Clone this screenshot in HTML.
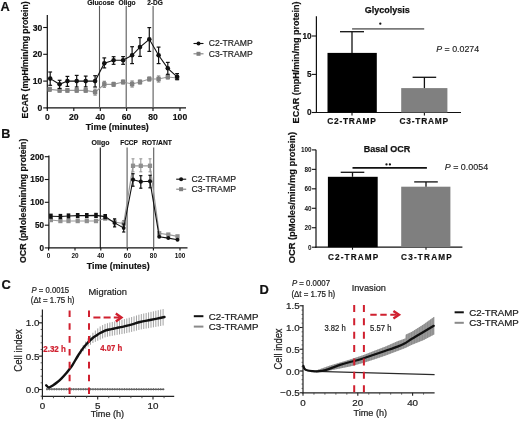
<!DOCTYPE html>
<html><head><meta charset="utf-8"><title>Figure</title>
<style>
html,body{margin:0;padding:0;background:#fff;}
body{width:520px;height:421px;overflow:hidden;}
svg{display:block;will-change:transform;}
text{font-family:"Liberation Sans", sans-serif;}
</style></head>
<body>
<svg width="520" height="421" viewBox="0 0 520 421" font-family="Liberation Sans, sans-serif">
<text x="0.5" y="10.8" font-size="12.8" font-weight="bold" text-anchor="start" fill="#111"  stroke="#111" stroke-width="0.18">A</text>
<line x1="47.3" y1="15" x2="47.3" y2="108.4" stroke="#111" stroke-width="1.2" />
<line x1="46.699999999999996" y1="107.9" x2="186" y2="107.9" stroke="#111" stroke-width="1.2" />
<line x1="43.2" y1="107.9" x2="47.3" y2="107.9" stroke="#111" stroke-width="1.1" />
<text x="42.3" y="110.9" font-size="8.6" font-weight="bold" text-anchor="end" fill="#111"  stroke="#111" stroke-width="0.18">0</text>
<line x1="43.2" y1="81.1" x2="47.3" y2="81.1" stroke="#111" stroke-width="1.1" />
<text x="42.3" y="84.1" font-size="8.6" font-weight="bold" text-anchor="end" fill="#111"  stroke="#111" stroke-width="0.18">10</text>
<line x1="43.2" y1="54.3" x2="47.3" y2="54.3" stroke="#111" stroke-width="1.1" />
<text x="42.3" y="57.3" font-size="8.6" font-weight="bold" text-anchor="end" fill="#111"  stroke="#111" stroke-width="0.18">20</text>
<line x1="43.2" y1="27.5" x2="47.3" y2="27.5" stroke="#111" stroke-width="1.1" />
<text x="42.3" y="30.5" font-size="8.6" font-weight="bold" text-anchor="end" fill="#111"  stroke="#111" stroke-width="0.18">30</text>
<line x1="47.3" y1="107.9" x2="47.3" y2="110.9" stroke="#111" stroke-width="1.1" />
<text x="47.3" y="119.8" font-size="8.6" font-weight="bold" text-anchor="middle" fill="#111"  stroke="#111" stroke-width="0.18">0</text>
<line x1="73.8" y1="107.9" x2="73.8" y2="110.9" stroke="#111" stroke-width="1.1" />
<text x="73.8" y="119.8" font-size="8.6" font-weight="bold" text-anchor="middle" fill="#111"  stroke="#111" stroke-width="0.18">20</text>
<line x1="100.3" y1="107.9" x2="100.3" y2="110.9" stroke="#111" stroke-width="1.1" />
<text x="100.3" y="119.8" font-size="8.6" font-weight="bold" text-anchor="middle" fill="#111"  stroke="#111" stroke-width="0.18">40</text>
<line x1="126.6" y1="107.9" x2="126.6" y2="110.9" stroke="#111" stroke-width="1.1" />
<text x="126.6" y="119.8" font-size="8.6" font-weight="bold" text-anchor="middle" fill="#111"  stroke="#111" stroke-width="0.18">60</text>
<line x1="153.0" y1="107.9" x2="153.0" y2="110.9" stroke="#111" stroke-width="1.1" />
<text x="153.0" y="119.8" font-size="8.6" font-weight="bold" text-anchor="middle" fill="#111"  stroke="#111" stroke-width="0.18">80</text>
<line x1="180.0" y1="107.9" x2="180.0" y2="110.9" stroke="#111" stroke-width="1.1" />
<text x="180.0" y="119.8" font-size="8.6" font-weight="bold" text-anchor="middle" fill="#111"  stroke="#111" stroke-width="0.18">100</text>
<text x="117.3" y="129.5" font-size="8.8" font-weight="bold" text-anchor="middle" fill="#111"  stroke="#111" stroke-width="0.18" textLength="63" lengthAdjust="spacingAndGlyphs">Time (minutes)</text>
<text transform="translate(28.1,59.9) rotate(-90)" x="0" y="0" font-size="8.6" font-weight="bold" text-anchor="middle" fill="#111" textLength="117" lengthAdjust="spacingAndGlyphs" stroke="#111" stroke-width="0.18">ECAR (mpH/min/mg protein)</text>
<line x1="99.5" y1="5.9" x2="99.5" y2="107.9" stroke="#5a5a5a" stroke-width="1.1" />
<line x1="126.2" y1="5.9" x2="126.2" y2="107.9" stroke="#5a5a5a" stroke-width="1.1" />
<line x1="153.1" y1="5.9" x2="153.1" y2="107.9" stroke="#5a5a5a" stroke-width="1.1" />
<text x="100.75" y="4.95" font-size="6.6" font-weight="bold" text-anchor="middle" fill="#111"  stroke="#111" stroke-width="0.14" textLength="27.2" lengthAdjust="spacingAndGlyphs">Glucose</text>
<text x="127.05" y="4.95" font-size="6.6" font-weight="bold" text-anchor="middle" fill="#111"  stroke="#111" stroke-width="0.14" textLength="17.0" lengthAdjust="spacingAndGlyphs">Oligo</text>
<text x="155.0" y="4.95" font-size="6.6" font-weight="bold" text-anchor="middle" fill="#111"  stroke="#111" stroke-width="0.14" textLength="15.6" lengthAdjust="spacingAndGlyphs">2-DG</text>
<path d="M49.7,89.3 L59.6,90.4 L67.4,90.4 L76.7,90.4 L85.7,90.4 L95.1,92.1 L104.3,84.3 L113.6,84.3 L123.1,82.0 L132.1,84.0 L140.0,82.0 L149.3,79.0 L158.6,79.0 L167.8,77.0 L177.1,78.0" fill="none" stroke="#9a9a9a" stroke-width="1.2"/>
<line x1="49.7" y1="87.3" x2="49.7" y2="91.3" stroke="#808080" stroke-width="1.1" />
<line x1="48.0" y1="87.3" x2="51.400000000000006" y2="87.3" stroke="#808080" stroke-width="1.1" />
<line x1="48.0" y1="91.3" x2="51.400000000000006" y2="91.3" stroke="#808080" stroke-width="1.1" />
<rect x="47.5" y="87.1" width="4.4" height="4.4" fill="#808080"/>
<line x1="59.6" y1="88.60000000000001" x2="59.6" y2="92.2" stroke="#808080" stroke-width="1.1" />
<line x1="57.9" y1="88.60000000000001" x2="61.300000000000004" y2="88.60000000000001" stroke="#808080" stroke-width="1.1" />
<line x1="57.9" y1="92.2" x2="61.300000000000004" y2="92.2" stroke="#808080" stroke-width="1.1" />
<rect x="57.4" y="88.2" width="4.4" height="4.4" fill="#808080"/>
<line x1="67.4" y1="88.60000000000001" x2="67.4" y2="92.2" stroke="#808080" stroke-width="1.1" />
<line x1="65.7" y1="88.60000000000001" x2="69.10000000000001" y2="88.60000000000001" stroke="#808080" stroke-width="1.1" />
<line x1="65.7" y1="92.2" x2="69.10000000000001" y2="92.2" stroke="#808080" stroke-width="1.1" />
<rect x="65.2" y="88.2" width="4.4" height="4.4" fill="#808080"/>
<line x1="76.7" y1="88.60000000000001" x2="76.7" y2="92.2" stroke="#808080" stroke-width="1.1" />
<line x1="75.0" y1="88.60000000000001" x2="78.4" y2="88.60000000000001" stroke="#808080" stroke-width="1.1" />
<line x1="75.0" y1="92.2" x2="78.4" y2="92.2" stroke="#808080" stroke-width="1.1" />
<rect x="74.5" y="88.2" width="4.4" height="4.4" fill="#808080"/>
<line x1="85.7" y1="88.60000000000001" x2="85.7" y2="92.2" stroke="#808080" stroke-width="1.1" />
<line x1="84.0" y1="88.60000000000001" x2="87.4" y2="88.60000000000001" stroke="#808080" stroke-width="1.1" />
<line x1="84.0" y1="92.2" x2="87.4" y2="92.2" stroke="#808080" stroke-width="1.1" />
<rect x="83.5" y="88.2" width="4.4" height="4.4" fill="#808080"/>
<line x1="95.1" y1="89.1" x2="95.1" y2="95.1" stroke="#808080" stroke-width="1.1" />
<line x1="93.39999999999999" y1="89.1" x2="96.8" y2="89.1" stroke="#808080" stroke-width="1.1" />
<line x1="93.39999999999999" y1="95.1" x2="96.8" y2="95.1" stroke="#808080" stroke-width="1.1" />
<rect x="92.89999999999999" y="89.89999999999999" width="4.4" height="4.4" fill="#808080"/>
<line x1="104.3" y1="81.3" x2="104.3" y2="87.3" stroke="#808080" stroke-width="1.1" />
<line x1="102.6" y1="81.3" x2="106.0" y2="81.3" stroke="#808080" stroke-width="1.1" />
<line x1="102.6" y1="87.3" x2="106.0" y2="87.3" stroke="#808080" stroke-width="1.1" />
<rect x="102.1" y="82.1" width="4.4" height="4.4" fill="#808080"/>
<line x1="113.6" y1="82.3" x2="113.6" y2="86.3" stroke="#808080" stroke-width="1.1" />
<line x1="111.89999999999999" y1="82.3" x2="115.3" y2="82.3" stroke="#808080" stroke-width="1.1" />
<line x1="111.89999999999999" y1="86.3" x2="115.3" y2="86.3" stroke="#808080" stroke-width="1.1" />
<rect x="111.39999999999999" y="82.1" width="4.4" height="4.4" fill="#808080"/>
<line x1="123.1" y1="80.0" x2="123.1" y2="84.0" stroke="#808080" stroke-width="1.1" />
<line x1="121.39999999999999" y1="80.0" x2="124.8" y2="80.0" stroke="#808080" stroke-width="1.1" />
<line x1="121.39999999999999" y1="84.0" x2="124.8" y2="84.0" stroke="#808080" stroke-width="1.1" />
<rect x="120.89999999999999" y="79.8" width="4.4" height="4.4" fill="#808080"/>
<line x1="132.1" y1="81.0" x2="132.1" y2="87.0" stroke="#808080" stroke-width="1.1" />
<line x1="130.4" y1="81.0" x2="133.79999999999998" y2="81.0" stroke="#808080" stroke-width="1.1" />
<line x1="130.4" y1="87.0" x2="133.79999999999998" y2="87.0" stroke="#808080" stroke-width="1.1" />
<rect x="129.9" y="81.8" width="4.4" height="4.4" fill="#808080"/>
<line x1="140.0" y1="80.0" x2="140.0" y2="84.0" stroke="#808080" stroke-width="1.1" />
<line x1="138.3" y1="80.0" x2="141.7" y2="80.0" stroke="#808080" stroke-width="1.1" />
<line x1="138.3" y1="84.0" x2="141.7" y2="84.0" stroke="#808080" stroke-width="1.1" />
<rect x="137.8" y="79.8" width="4.4" height="4.4" fill="#808080"/>
<line x1="149.3" y1="77.0" x2="149.3" y2="81.0" stroke="#808080" stroke-width="1.1" />
<line x1="147.60000000000002" y1="77.0" x2="151.0" y2="77.0" stroke="#808080" stroke-width="1.1" />
<line x1="147.60000000000002" y1="81.0" x2="151.0" y2="81.0" stroke="#808080" stroke-width="1.1" />
<rect x="147.10000000000002" y="76.8" width="4.4" height="4.4" fill="#808080"/>
<line x1="158.6" y1="76.0" x2="158.6" y2="82.0" stroke="#808080" stroke-width="1.1" />
<line x1="156.9" y1="76.0" x2="160.29999999999998" y2="76.0" stroke="#808080" stroke-width="1.1" />
<line x1="156.9" y1="82.0" x2="160.29999999999998" y2="82.0" stroke="#808080" stroke-width="1.1" />
<rect x="156.4" y="76.8" width="4.4" height="4.4" fill="#808080"/>
<line x1="167.8" y1="75.0" x2="167.8" y2="79.0" stroke="#808080" stroke-width="1.1" />
<line x1="166.10000000000002" y1="75.0" x2="169.5" y2="75.0" stroke="#808080" stroke-width="1.1" />
<line x1="166.10000000000002" y1="79.0" x2="169.5" y2="79.0" stroke="#808080" stroke-width="1.1" />
<rect x="165.60000000000002" y="74.8" width="4.4" height="4.4" fill="#808080"/>
<line x1="177.1" y1="76.0" x2="177.1" y2="80.0" stroke="#808080" stroke-width="1.1" />
<line x1="175.4" y1="76.0" x2="178.79999999999998" y2="76.0" stroke="#808080" stroke-width="1.1" />
<line x1="175.4" y1="80.0" x2="178.79999999999998" y2="80.0" stroke="#808080" stroke-width="1.1" />
<rect x="174.9" y="75.8" width="4.4" height="4.4" fill="#808080"/>
<path d="M50.2,78.6 L59.6,84.3 L67.4,81.1 L76.7,81.1 L85.7,81.1 L95.1,81.1 L104.3,63.3 L113.6,60.3 L123.1,60.3 L132.1,55.3 L140.0,47.1 L149.3,39.3 L158.6,55.2 L167.8,68.3 L177.1,76.8" fill="none" stroke="#111" stroke-width="1.1"/>
<line x1="50.2" y1="72.0" x2="50.2" y2="85.3" stroke="#111" stroke-width="1.2" />
<line x1="48.300000000000004" y1="72.0" x2="52.1" y2="72.0" stroke="#111" stroke-width="1.2" />
<line x1="48.300000000000004" y1="85.3" x2="52.1" y2="85.3" stroke="#111" stroke-width="1.2" />
<circle cx="50.2" cy="78.6" r="2.3" fill="#111"/>
<line x1="59.6" y1="80.3" x2="59.6" y2="88.4" stroke="#111" stroke-width="1.2" />
<line x1="57.7" y1="80.3" x2="61.5" y2="80.3" stroke="#111" stroke-width="1.2" />
<line x1="57.7" y1="88.4" x2="61.5" y2="88.4" stroke="#111" stroke-width="1.2" />
<circle cx="59.6" cy="84.3" r="2.3" fill="#111"/>
<line x1="67.4" y1="76.4" x2="67.4" y2="86.4" stroke="#111" stroke-width="1.2" />
<line x1="65.5" y1="76.4" x2="69.30000000000001" y2="76.4" stroke="#111" stroke-width="1.2" />
<line x1="65.5" y1="86.4" x2="69.30000000000001" y2="86.4" stroke="#111" stroke-width="1.2" />
<circle cx="67.4" cy="81.1" r="2.3" fill="#111"/>
<line x1="76.7" y1="75.4" x2="76.7" y2="87.0" stroke="#111" stroke-width="1.2" />
<line x1="74.8" y1="75.4" x2="78.60000000000001" y2="75.4" stroke="#111" stroke-width="1.2" />
<line x1="74.8" y1="87.0" x2="78.60000000000001" y2="87.0" stroke="#111" stroke-width="1.2" />
<circle cx="76.7" cy="81.1" r="2.3" fill="#111"/>
<line x1="85.7" y1="76.1" x2="85.7" y2="86.9" stroke="#111" stroke-width="1.2" />
<line x1="83.8" y1="76.1" x2="87.60000000000001" y2="76.1" stroke="#111" stroke-width="1.2" />
<line x1="83.8" y1="86.9" x2="87.60000000000001" y2="86.9" stroke="#111" stroke-width="1.2" />
<circle cx="85.7" cy="81.1" r="2.3" fill="#111"/>
<line x1="95.1" y1="75.7" x2="95.1" y2="87.0" stroke="#111" stroke-width="1.2" />
<line x1="93.19999999999999" y1="75.7" x2="97.0" y2="75.7" stroke="#111" stroke-width="1.2" />
<line x1="93.19999999999999" y1="87.0" x2="97.0" y2="87.0" stroke="#111" stroke-width="1.2" />
<circle cx="95.1" cy="81.1" r="2.3" fill="#111"/>
<line x1="104.3" y1="57.9" x2="104.3" y2="67.9" stroke="#111" stroke-width="1.2" />
<line x1="102.39999999999999" y1="57.9" x2="106.2" y2="57.9" stroke="#111" stroke-width="1.2" />
<line x1="102.39999999999999" y1="67.9" x2="106.2" y2="67.9" stroke="#111" stroke-width="1.2" />
<circle cx="104.3" cy="63.3" r="2.3" fill="#111"/>
<line x1="113.6" y1="56.7" x2="113.6" y2="64.3" stroke="#111" stroke-width="1.2" />
<line x1="111.69999999999999" y1="56.7" x2="115.5" y2="56.7" stroke="#111" stroke-width="1.2" />
<line x1="111.69999999999999" y1="64.3" x2="115.5" y2="64.3" stroke="#111" stroke-width="1.2" />
<circle cx="113.6" cy="60.3" r="2.3" fill="#111"/>
<line x1="123.1" y1="56.6" x2="123.1" y2="64.3" stroke="#111" stroke-width="1.2" />
<line x1="121.19999999999999" y1="56.6" x2="125.0" y2="56.6" stroke="#111" stroke-width="1.2" />
<line x1="121.19999999999999" y1="64.3" x2="125.0" y2="64.3" stroke="#111" stroke-width="1.2" />
<circle cx="123.1" cy="60.3" r="2.3" fill="#111"/>
<line x1="132.1" y1="46.7" x2="132.1" y2="63.6" stroke="#111" stroke-width="1.2" />
<line x1="130.2" y1="46.7" x2="134.0" y2="46.7" stroke="#111" stroke-width="1.2" />
<line x1="130.2" y1="63.6" x2="134.0" y2="63.6" stroke="#111" stroke-width="1.2" />
<circle cx="132.1" cy="55.3" r="2.3" fill="#111"/>
<line x1="140.0" y1="37.6" x2="140.0" y2="56.4" stroke="#111" stroke-width="1.2" />
<line x1="138.1" y1="37.6" x2="141.9" y2="37.6" stroke="#111" stroke-width="1.2" />
<line x1="138.1" y1="56.4" x2="141.9" y2="56.4" stroke="#111" stroke-width="1.2" />
<circle cx="140.0" cy="47.1" r="2.3" fill="#111"/>
<line x1="149.3" y1="27.6" x2="149.3" y2="51.4" stroke="#111" stroke-width="1.2" />
<line x1="147.4" y1="27.6" x2="151.20000000000002" y2="27.6" stroke="#111" stroke-width="1.2" />
<line x1="147.4" y1="51.4" x2="151.20000000000002" y2="51.4" stroke="#111" stroke-width="1.2" />
<circle cx="149.3" cy="39.3" r="2.3" fill="#111"/>
<line x1="158.6" y1="47.1" x2="158.6" y2="63.6" stroke="#111" stroke-width="1.2" />
<line x1="156.7" y1="47.1" x2="160.5" y2="47.1" stroke="#111" stroke-width="1.2" />
<line x1="156.7" y1="63.6" x2="160.5" y2="63.6" stroke="#111" stroke-width="1.2" />
<circle cx="158.6" cy="55.2" r="2.3" fill="#111"/>
<line x1="167.8" y1="62.4" x2="167.8" y2="74.3" stroke="#111" stroke-width="1.2" />
<line x1="165.9" y1="62.4" x2="169.70000000000002" y2="62.4" stroke="#111" stroke-width="1.2" />
<line x1="165.9" y1="74.3" x2="169.70000000000002" y2="74.3" stroke="#111" stroke-width="1.2" />
<circle cx="167.8" cy="68.3" r="2.3" fill="#111"/>
<line x1="177.1" y1="73.6" x2="177.1" y2="79.3" stroke="#111" stroke-width="1.2" />
<line x1="175.2" y1="73.6" x2="179.0" y2="73.6" stroke="#111" stroke-width="1.2" />
<line x1="175.2" y1="79.3" x2="179.0" y2="79.3" stroke="#111" stroke-width="1.2" />
<circle cx="177.1" cy="76.8" r="2.3" fill="#111"/>
<line x1="193.5" y1="43.5" x2="203.5" y2="43.5" stroke="#111" stroke-width="1.1" />
<circle cx="198.5" cy="43.5" r="2" fill="#111"/>
<text x="208.7" y="46.4" font-size="8.8" font-weight="normal" text-anchor="start" fill="#222"  stroke="#222" stroke-width="0.18" textLength="44" lengthAdjust="spacingAndGlyphs">C2-TRAMP</text>
<line x1="193.5" y1="53.8" x2="203.5" y2="53.8" stroke="#808080" stroke-width="1.1" />
<rect x="196.5" y="51.8" width="4" height="4" fill="#808080"/>
<text x="208.7" y="56.7" font-size="8.8" font-weight="normal" text-anchor="start" fill="#222"  stroke="#222" stroke-width="0.18" textLength="44" lengthAdjust="spacingAndGlyphs">C3-TRAMP</text>
<line x1="316.4" y1="16.2" x2="316.4" y2="113.0" stroke="#111" stroke-width="1.2" />
<line x1="315.79999999999995" y1="112.5" x2="461" y2="112.5" stroke="#111" stroke-width="1.2" />
<line x1="311.8" y1="112.5" x2="316.4" y2="112.5" stroke="#111" stroke-width="1.1" />
<text x="311.6" y="115.4" font-size="8.2" font-weight="bold" text-anchor="end" fill="#111"  stroke="#111" stroke-width="0.18">0</text>
<line x1="311.8" y1="74.4" x2="316.4" y2="74.4" stroke="#111" stroke-width="1.1" />
<text x="311.6" y="77.30000000000001" font-size="8.2" font-weight="bold" text-anchor="end" fill="#111"  stroke="#111" stroke-width="0.18">5</text>
<line x1="311.8" y1="36.0" x2="316.4" y2="36.0" stroke="#111" stroke-width="1.1" />
<text x="311.6" y="38.9" font-size="8.2" font-weight="bold" text-anchor="end" fill="#111"  stroke="#111" stroke-width="0.18">10</text>
<line x1="352.0" y1="112.5" x2="352.0" y2="115.5" stroke="#111" stroke-width="1.1" />
<line x1="424.4" y1="112.5" x2="424.4" y2="115.5" stroke="#111" stroke-width="1.1" />
<rect x="327.5" y="52.9" width="49.3" height="59.6" fill="#000"/>
<line x1="352.0" y1="31.7" x2="352.0" y2="52.9" stroke="#111" stroke-width="1.3" />
<line x1="340.0" y1="31.7" x2="364.0" y2="31.7" stroke="#111" stroke-width="1.3" />
<rect x="401.2" y="88.1" width="46.2" height="24.400000000000006" fill="#808080"/>
<line x1="424.4" y1="77.3" x2="424.4" y2="88.1" stroke="#111" stroke-width="1.3" />
<line x1="412.59999999999997" y1="77.3" x2="436.2" y2="77.3" stroke="#111" stroke-width="1.3" />
<line x1="352.1" y1="28.9" x2="424.2" y2="28.9" stroke="#7a7a7a" stroke-width="1.7" />
<circle cx="380.3" cy="23.7" r="1.15" fill="#111"/>
<text x="387.2" y="13.4" font-size="9.4" font-weight="bold" text-anchor="middle" fill="#111" stroke="#111" stroke-width="0.25" textLength="45" lengthAdjust="spacingAndGlyphs">Glycolysis</text>
<text x="351.5" y="124.2" font-size="8.4" font-weight="bold" text-anchor="middle" fill="#111"  stroke="#111" stroke-width="0.18" textLength="48.5" lengthAdjust="spacing">C2-TRAMP</text>
<text x="423.8" y="124.2" font-size="8.4" font-weight="bold" text-anchor="middle" fill="#111"  stroke="#111" stroke-width="0.18" textLength="48.5" lengthAdjust="spacing">C3-TRAMP</text>
<text transform="translate(299.1,62.4) rotate(-90)" x="0" y="0" font-size="9.0" font-weight="bold" text-anchor="middle" fill="#111" textLength="122" lengthAdjust="spacingAndGlyphs" stroke="#111" stroke-width="0.18">ECAR (mpH/min/mg protein)</text>
<text x="436.2" y="51.6" font-size="9.2" stroke="#222" stroke-width="0.15" fill="#222" textLength="43" lengthAdjust="spacingAndGlyphs"><tspan font-style="italic">P</tspan> = 0.0274</text>
<text x="1.2" y="137.7" font-size="12.6" font-weight="bold" text-anchor="start" fill="#111"  stroke="#111" stroke-width="0.18">B</text>
<line x1="48.9" y1="155.5" x2="48.9" y2="248.4" stroke="#111" stroke-width="1.2" />
<line x1="48.3" y1="247.9" x2="187.5" y2="247.9" stroke="#111" stroke-width="1.2" />
<line x1="44.8" y1="247.9" x2="48.9" y2="247.9" stroke="#111" stroke-width="1.1" />
<text x="44.0" y="250.8" font-size="8.2" font-weight="bold" text-anchor="end" fill="#111"  stroke="#111" stroke-width="0.18">0</text>
<line x1="44.8" y1="225.2" x2="48.9" y2="225.2" stroke="#111" stroke-width="1.1" />
<text x="44.0" y="228.1" font-size="8.2" font-weight="bold" text-anchor="end" fill="#111"  stroke="#111" stroke-width="0.18">50</text>
<line x1="44.8" y1="202.3" x2="48.9" y2="202.3" stroke="#111" stroke-width="1.1" />
<text x="44.0" y="205.20000000000002" font-size="8.2" font-weight="bold" text-anchor="end" fill="#111"  stroke="#111" stroke-width="0.18">100</text>
<line x1="44.8" y1="179.5" x2="48.9" y2="179.5" stroke="#111" stroke-width="1.1" />
<text x="44.0" y="182.4" font-size="8.2" font-weight="bold" text-anchor="end" fill="#111"  stroke="#111" stroke-width="0.18">150</text>
<line x1="44.8" y1="156.7" x2="48.9" y2="156.7" stroke="#111" stroke-width="1.1" />
<text x="44.0" y="159.6" font-size="8.2" font-weight="bold" text-anchor="end" fill="#111"  stroke="#111" stroke-width="0.18">200</text>
<line x1="48.6" y1="247.9" x2="48.6" y2="250.4" stroke="#111" stroke-width="1.1" />
<text x="48.6" y="258.4" font-size="6.4" font-weight="bold" text-anchor="middle" fill="#111" >0</text>
<line x1="75.0" y1="247.9" x2="75.0" y2="250.4" stroke="#111" stroke-width="1.1" />
<text x="75.0" y="258.4" font-size="6.4" font-weight="bold" text-anchor="middle" fill="#111" >20</text>
<line x1="100.8" y1="247.9" x2="100.8" y2="250.4" stroke="#111" stroke-width="1.1" />
<text x="100.8" y="258.4" font-size="6.4" font-weight="bold" text-anchor="middle" fill="#111" >40</text>
<line x1="127.4" y1="247.9" x2="127.4" y2="250.4" stroke="#111" stroke-width="1.1" />
<text x="127.4" y="258.4" font-size="6.4" font-weight="bold" text-anchor="middle" fill="#111" >60</text>
<line x1="153.4" y1="247.9" x2="153.4" y2="250.4" stroke="#111" stroke-width="1.1" />
<text x="153.4" y="258.4" font-size="6.4" font-weight="bold" text-anchor="middle" fill="#111" >80</text>
<line x1="180.0" y1="247.9" x2="180.0" y2="250.4" stroke="#111" stroke-width="1.1" />
<text x="180.0" y="258.4" font-size="6.4" font-weight="bold" text-anchor="middle" fill="#111" >100</text>
<text x="118.2" y="269.1" font-size="8.8" font-weight="bold" text-anchor="middle" fill="#111"  stroke="#111" stroke-width="0.18" textLength="63" lengthAdjust="spacingAndGlyphs">Time (minutes)</text>
<text transform="translate(25.7,200.8) rotate(-90)" x="0" y="0" font-size="9.6" font-weight="bold" text-anchor="middle" fill="#111" textLength="124.5" lengthAdjust="spacingAndGlyphs" stroke="#111" stroke-width="0.18">OCR (pMoles/min/mg protein)</text>
<line x1="100.3" y1="147.5" x2="100.3" y2="247.9" stroke="#111" stroke-width="1.1" />
<line x1="127.1" y1="147.5" x2="127.1" y2="247.9" stroke="#5a5a5a" stroke-width="1.1" />
<line x1="153.7" y1="147.5" x2="153.7" y2="247.9" stroke="#5a5a5a" stroke-width="1.1" />
<text x="100.5" y="145.3" font-size="7.0" font-weight="bold" text-anchor="middle" fill="#111"  stroke="#111" stroke-width="0.14">Oligo</text>
<text x="129.0" y="145.3" font-size="7.0" font-weight="bold" text-anchor="middle" fill="#111"  stroke="#111" stroke-width="0.14" textLength="17.6" lengthAdjust="spacingAndGlyphs">FCCP</text>
<text x="156.9" y="145.3" font-size="7.0" font-weight="bold" text-anchor="middle" fill="#111"  stroke="#111" stroke-width="0.14" textLength="30" lengthAdjust="spacingAndGlyphs">ROT/ANT</text>
<path d="M50.9,220.0 L60.4,221.0 L68.5,221.0 L77.7,221.0 L86.8,221.0 L96.0,221.0 L105.2,218.5 L114.6,222.0 L123.7,223.6 L133.0,165.8 L140.8,165.8 L150.0,165.8 L159.2,233.3 L168.3,234.6 L177.5,236.4" fill="none" stroke="#9a9a9a" stroke-width="1.2"/>
<rect x="48.8" y="217.8" width="4.2" height="4.4" fill="#8e8e8e"/>
<rect x="58.3" y="218.8" width="4.2" height="4.4" fill="#8e8e8e"/>
<rect x="66.4" y="218.8" width="4.2" height="4.4" fill="#8e8e8e"/>
<rect x="75.60000000000001" y="218.8" width="4.2" height="4.4" fill="#8e8e8e"/>
<rect x="84.7" y="218.8" width="4.2" height="4.4" fill="#8e8e8e"/>
<rect x="93.9" y="218.8" width="4.2" height="4.4" fill="#8e8e8e"/>
<rect x="103.10000000000001" y="216.3" width="4.2" height="4.4" fill="#8e8e8e"/>
<line x1="114.6" y1="219.0" x2="114.6" y2="226.0" stroke="#808080" stroke-width="1.1" />
<line x1="113.1" y1="219.0" x2="116.1" y2="219.0" stroke="#808080" stroke-width="1.1" />
<line x1="113.1" y1="226.0" x2="116.1" y2="226.0" stroke="#808080" stroke-width="1.1" />
<rect x="112.5" y="219.8" width="4.2" height="4.4" fill="#8e8e8e"/>
<line x1="123.7" y1="220.6" x2="123.7" y2="227.6" stroke="#808080" stroke-width="1.1" />
<line x1="122.2" y1="220.6" x2="125.2" y2="220.6" stroke="#808080" stroke-width="1.1" />
<line x1="122.2" y1="227.6" x2="125.2" y2="227.6" stroke="#808080" stroke-width="1.1" />
<rect x="121.60000000000001" y="221.4" width="4.2" height="4.4" fill="#8e8e8e"/>
<line x1="133.0" y1="158.8" x2="133.0" y2="171.8" stroke="#999" stroke-width="1.1" />
<line x1="131.5" y1="158.8" x2="134.5" y2="158.8" stroke="#999" stroke-width="1.1" />
<line x1="131.5" y1="171.8" x2="134.5" y2="171.8" stroke="#999" stroke-width="1.1" />
<rect x="130.9" y="163.60000000000002" width="4.2" height="4.4" fill="#8e8e8e"/>
<line x1="140.8" y1="158.8" x2="140.8" y2="171.8" stroke="#999" stroke-width="1.1" />
<line x1="139.3" y1="158.8" x2="142.3" y2="158.8" stroke="#999" stroke-width="1.1" />
<line x1="139.3" y1="171.8" x2="142.3" y2="171.8" stroke="#999" stroke-width="1.1" />
<rect x="138.70000000000002" y="163.60000000000002" width="4.2" height="4.4" fill="#8e8e8e"/>
<line x1="150.0" y1="158.8" x2="150.0" y2="171.8" stroke="#999" stroke-width="1.1" />
<line x1="148.5" y1="158.8" x2="151.5" y2="158.8" stroke="#999" stroke-width="1.1" />
<line x1="148.5" y1="171.8" x2="151.5" y2="171.8" stroke="#999" stroke-width="1.1" />
<rect x="147.9" y="163.60000000000002" width="4.2" height="4.4" fill="#8e8e8e"/>
<rect x="157.1" y="231.10000000000002" width="4.2" height="4.4" fill="#8e8e8e"/>
<rect x="166.20000000000002" y="232.4" width="4.2" height="4.4" fill="#8e8e8e"/>
<rect x="175.4" y="234.20000000000002" width="4.2" height="4.4" fill="#8e8e8e"/>
<path d="M50.9,216.2 L60.4,216.5 L68.5,216.0 L77.7,215.6 L86.8,215.6 L96.0,215.4 L105.2,216.6 L114.6,222.9 L123.7,228.0 L133.0,179.7 L140.8,181.7 L150.0,181.3 L159.2,236.7 L168.3,238.1 L177.5,239.7" fill="none" stroke="#111" stroke-width="1.1"/>
<rect x="49.1" y="213.6" width="3.6" height="5.2" fill="#111"/>
<rect x="58.6" y="213.9" width="3.6" height="5.2" fill="#111"/>
<rect x="66.7" y="213.4" width="3.6" height="5.2" fill="#111"/>
<rect x="75.9" y="213.0" width="3.6" height="5.2" fill="#111"/>
<rect x="85.0" y="213.0" width="3.6" height="5.2" fill="#111"/>
<rect x="94.2" y="212.8" width="3.6" height="5.2" fill="#111"/>
<rect x="103.4" y="214.0" width="3.6" height="5.2" fill="#111"/>
<line x1="114.6" y1="218.9" x2="114.6" y2="226.9" stroke="#111" stroke-width="1.2" />
<line x1="113.0" y1="218.9" x2="116.19999999999999" y2="218.9" stroke="#111" stroke-width="1.2" />
<line x1="113.0" y1="226.9" x2="116.19999999999999" y2="226.9" stroke="#111" stroke-width="1.2" />
<circle cx="114.6" cy="222.9" r="1.9" fill="#111"/>
<line x1="123.7" y1="224.0" x2="123.7" y2="232.0" stroke="#111" stroke-width="1.2" />
<line x1="122.10000000000001" y1="224.0" x2="125.3" y2="224.0" stroke="#111" stroke-width="1.2" />
<line x1="122.10000000000001" y1="232.0" x2="125.3" y2="232.0" stroke="#111" stroke-width="1.2" />
<circle cx="123.7" cy="228.0" r="1.9" fill="#111"/>
<line x1="133.0" y1="173.7" x2="133.0" y2="186.2" stroke="#111" stroke-width="1.2" />
<line x1="131.4" y1="173.7" x2="134.6" y2="173.7" stroke="#111" stroke-width="1.2" />
<line x1="131.4" y1="186.2" x2="134.6" y2="186.2" stroke="#111" stroke-width="1.2" />
<circle cx="133.0" cy="179.7" r="2.1" fill="#111"/>
<line x1="140.8" y1="175.7" x2="140.8" y2="188.2" stroke="#111" stroke-width="1.2" />
<line x1="139.20000000000002" y1="175.7" x2="142.4" y2="175.7" stroke="#111" stroke-width="1.2" />
<line x1="139.20000000000002" y1="188.2" x2="142.4" y2="188.2" stroke="#111" stroke-width="1.2" />
<circle cx="140.8" cy="181.7" r="2.1" fill="#111"/>
<line x1="150.0" y1="175.3" x2="150.0" y2="187.8" stroke="#111" stroke-width="1.2" />
<line x1="148.4" y1="175.3" x2="151.6" y2="175.3" stroke="#111" stroke-width="1.2" />
<line x1="148.4" y1="187.8" x2="151.6" y2="187.8" stroke="#111" stroke-width="1.2" />
<circle cx="150.0" cy="181.3" r="2.1" fill="#111"/>
<circle cx="159.2" cy="236.7" r="2.0" fill="#111"/>
<circle cx="168.3" cy="238.1" r="2.0" fill="#111"/>
<circle cx="177.5" cy="239.7" r="2.0" fill="#111"/>
<line x1="176.2" y1="179.2" x2="186.2" y2="179.2" stroke="#111" stroke-width="1.1" />
<circle cx="181.1" cy="179.2" r="2" fill="#111"/>
<text x="191.4" y="182.3" font-size="8.8" font-weight="normal" text-anchor="start" fill="#222"  stroke="#222" stroke-width="0.18" textLength="44.6" lengthAdjust="spacingAndGlyphs">C2-TRAMP</text>
<line x1="176.2" y1="189.2" x2="186.2" y2="189.2" stroke="#808080" stroke-width="1.1" />
<rect x="179.1" y="187.2" width="4" height="4" fill="#808080"/>
<text x="191.4" y="192.3" font-size="8.8" font-weight="normal" text-anchor="start" fill="#222"  stroke="#222" stroke-width="0.18" textLength="44.6" lengthAdjust="spacingAndGlyphs">C3-TRAMP</text>
<line x1="316.0" y1="149.7" x2="316.0" y2="247.7" stroke="#111" stroke-width="1.2" />
<line x1="315.4" y1="247.2" x2="462.4" y2="247.2" stroke="#111" stroke-width="1.2" />
<line x1="312.0" y1="247.2" x2="316.0" y2="247.2" stroke="#111" stroke-width="1.1" />
<text x="311.6" y="249.5" font-size="6.4" font-weight="bold" text-anchor="end" fill="#111" >0</text>
<line x1="312.0" y1="227.73999999999998" x2="316.0" y2="227.73999999999998" stroke="#111" stroke-width="1.1" />
<text x="311.6" y="230.04" font-size="6.4" font-weight="bold" text-anchor="end" fill="#111" >20</text>
<line x1="312.0" y1="208.27999999999997" x2="316.0" y2="208.27999999999997" stroke="#111" stroke-width="1.1" />
<text x="311.6" y="210.57999999999998" font-size="6.4" font-weight="bold" text-anchor="end" fill="#111" >40</text>
<line x1="312.0" y1="188.82" x2="316.0" y2="188.82" stroke="#111" stroke-width="1.1" />
<text x="311.6" y="191.12" font-size="6.4" font-weight="bold" text-anchor="end" fill="#111" >60</text>
<line x1="312.0" y1="169.35999999999999" x2="316.0" y2="169.35999999999999" stroke="#111" stroke-width="1.1" />
<text x="311.6" y="171.66" font-size="6.4" font-weight="bold" text-anchor="end" fill="#111" >80</text>
<line x1="312.0" y1="149.89999999999998" x2="316.0" y2="149.89999999999998" stroke="#111" stroke-width="1.1" />
<text x="311.6" y="152.2" font-size="6.4" font-weight="bold" text-anchor="end" fill="#111" >100</text>
<line x1="352.5" y1="247.2" x2="352.5" y2="249.7" stroke="#111" stroke-width="1.1" />
<line x1="426.0" y1="247.2" x2="426.0" y2="249.7" stroke="#111" stroke-width="1.1" />
<rect x="327.9" y="176.8" width="49.8" height="70.39999999999998" fill="#000"/>
<line x1="352.5" y1="172.3" x2="352.5" y2="176.8" stroke="#111" stroke-width="1.3" />
<line x1="340.7" y1="172.3" x2="364.3" y2="172.3" stroke="#111" stroke-width="1.3" />
<rect x="401.2" y="186.7" width="49.2" height="60.5" fill="#7f7f7f"/>
<line x1="426.0" y1="181.9" x2="426.0" y2="186.7" stroke="#111" stroke-width="1.3" />
<line x1="414.2" y1="181.9" x2="437.8" y2="181.9" stroke="#111" stroke-width="1.3" />
<line x1="352.5" y1="167.9" x2="426.9" y2="167.9" stroke="#111" stroke-width="1.6" />
<circle cx="386.5" cy="164.4" r="1.15" fill="#111"/><circle cx="389.9" cy="164.4" r="1.15" fill="#111"/>
<text x="386.9" y="152.2" font-size="9.8" font-weight="bold" text-anchor="middle" fill="#111" stroke="#111" stroke-width="0.25" textLength="46.5" lengthAdjust="spacingAndGlyphs">Basal OCR</text>
<text x="353.1" y="259.9" font-size="8.2" font-weight="bold" text-anchor="middle" fill="#111"  stroke="#111" stroke-width="0.18" textLength="50.0" lengthAdjust="spacing">C2-TRAMP</text>
<text x="426.4" y="259.9" font-size="8.2" font-weight="bold" text-anchor="middle" fill="#111"  stroke="#111" stroke-width="0.18" textLength="50.6" lengthAdjust="spacing">C3-TRAMP</text>
<text transform="translate(294.7,197.6) rotate(-90)" x="0" y="0" font-size="9.2" font-weight="bold" text-anchor="middle" fill="#111" textLength="131.5" lengthAdjust="spacingAndGlyphs" stroke="#111" stroke-width="0.18">OCR (pMoles/min/mg protein)</text>
<text x="444.8" y="169.6" font-size="9.2" stroke="#222" stroke-width="0.15" fill="#222" textLength="43.3" lengthAdjust="spacingAndGlyphs"><tspan font-style="italic">P</tspan> = 0.0054</text>
<text x="1.5" y="288.7" font-size="12.9" font-weight="bold" text-anchor="start" fill="#111"  stroke="#111" stroke-width="0.22">C</text>
<line x1="42.4" y1="309.6" x2="42.4" y2="396.9" stroke="#222" stroke-width="1.2" />
<line x1="41.8" y1="396.4" x2="174.2" y2="396.4" stroke="#222" stroke-width="1.2" />
<line x1="38.6" y1="389.5" x2="42.4" y2="389.5" stroke="#222" stroke-width="1.1" />
<text x="39.4" y="393.0" font-size="9.8" font-weight="normal" text-anchor="end" fill="#222"  stroke="#222" stroke-width="0.22">0.0</text>
<line x1="38.6" y1="356.15" x2="42.4" y2="356.15" stroke="#222" stroke-width="1.1" />
<text x="39.4" y="359.65" font-size="9.8" font-weight="normal" text-anchor="end" fill="#222"  stroke="#222" stroke-width="0.22">0.5</text>
<line x1="38.6" y1="322.8" x2="42.4" y2="322.8" stroke="#222" stroke-width="1.1" />
<text x="39.4" y="326.3" font-size="9.8" font-weight="normal" text-anchor="end" fill="#222"  stroke="#222" stroke-width="0.22">1.0</text>
<line x1="40.6" y1="396.17" x2="42.4" y2="396.17" stroke="#444" stroke-width="0.9" />
<line x1="40.6" y1="389.5" x2="42.4" y2="389.5" stroke="#444" stroke-width="0.9" />
<line x1="40.6" y1="382.83" x2="42.4" y2="382.83" stroke="#444" stroke-width="0.9" />
<line x1="40.6" y1="376.16" x2="42.4" y2="376.16" stroke="#444" stroke-width="0.9" />
<line x1="40.6" y1="369.49" x2="42.4" y2="369.49" stroke="#444" stroke-width="0.9" />
<line x1="40.6" y1="362.82" x2="42.4" y2="362.82" stroke="#444" stroke-width="0.9" />
<line x1="40.6" y1="356.15" x2="42.4" y2="356.15" stroke="#444" stroke-width="0.9" />
<line x1="40.6" y1="349.48" x2="42.4" y2="349.48" stroke="#444" stroke-width="0.9" />
<line x1="40.6" y1="342.81" x2="42.4" y2="342.81" stroke="#444" stroke-width="0.9" />
<line x1="40.6" y1="336.14" x2="42.4" y2="336.14" stroke="#444" stroke-width="0.9" />
<line x1="40.6" y1="329.47" x2="42.4" y2="329.47" stroke="#444" stroke-width="0.9" />
<line x1="40.6" y1="322.8" x2="42.4" y2="322.8" stroke="#444" stroke-width="0.9" />
<line x1="40.6" y1="316.13" x2="42.4" y2="316.13" stroke="#444" stroke-width="0.9" />
<line x1="42.4" y1="396.4" x2="42.4" y2="399.4" stroke="#222" stroke-width="1.1" />
<text x="42.4" y="409.3" font-size="9.8" font-weight="normal" text-anchor="middle" fill="#222"  stroke="#222" stroke-width="0.22">0</text>
<line x1="97.7" y1="396.4" x2="97.7" y2="399.4" stroke="#222" stroke-width="1.1" />
<text x="97.7" y="409.3" font-size="9.8" font-weight="normal" text-anchor="middle" fill="#222"  stroke="#222" stroke-width="0.22">5</text>
<line x1="153.0" y1="396.4" x2="153.0" y2="399.4" stroke="#222" stroke-width="1.1" />
<text x="153.0" y="409.3" font-size="9.8" font-weight="normal" text-anchor="middle" fill="#222"  stroke="#222" stroke-width="0.22">10</text>
<line x1="53.46" y1="396.4" x2="53.46" y2="398.2" stroke="#444" stroke-width="0.9" />
<line x1="64.52" y1="396.4" x2="64.52" y2="398.2" stroke="#444" stroke-width="0.9" />
<line x1="75.58" y1="396.4" x2="75.58" y2="398.2" stroke="#444" stroke-width="0.9" />
<line x1="86.64" y1="396.4" x2="86.64" y2="398.2" stroke="#444" stroke-width="0.9" />
<line x1="108.75999999999999" y1="396.4" x2="108.75999999999999" y2="398.2" stroke="#444" stroke-width="0.9" />
<line x1="119.82" y1="396.4" x2="119.82" y2="398.2" stroke="#444" stroke-width="0.9" />
<line x1="130.88" y1="396.4" x2="130.88" y2="398.2" stroke="#444" stroke-width="0.9" />
<line x1="141.94" y1="396.4" x2="141.94" y2="398.2" stroke="#444" stroke-width="0.9" />
<line x1="164.06" y1="396.4" x2="164.06" y2="398.2" stroke="#444" stroke-width="0.9" />
<text x="107.4" y="417.3" font-size="9.2" font-weight="normal" text-anchor="middle" fill="#222"  stroke="#222" stroke-width="0.22" textLength="33.5" lengthAdjust="spacingAndGlyphs">Time (h)</text>
<text transform="translate(21.8,350.5) rotate(-90)" x="0" y="0" font-size="10.2" font-weight="normal" text-anchor="middle" fill="#222" textLength="42.5" lengthAdjust="spacingAndGlyphs" stroke="#222" stroke-width="0.22">Cell index</text>
<line x1="78.40" y1="353.06" x2="78.40" y2="357.22" stroke="#9d9d9d" stroke-width="0.95" />
<line x1="80.82" y1="348.89" x2="80.82" y2="354.08" stroke="#9d9d9d" stroke-width="0.95" />
<line x1="83.24" y1="345.02" x2="83.24" y2="351.22" stroke="#9d9d9d" stroke-width="0.95" />
<line x1="85.66" y1="341.54" x2="85.66" y2="348.76" stroke="#9d9d9d" stroke-width="0.95" />
<line x1="88.08" y1="338.34" x2="88.08" y2="346.57" stroke="#9d9d9d" stroke-width="0.95" />
<line x1="90.50" y1="335.50" x2="90.50" y2="344.75" stroke="#9d9d9d" stroke-width="0.95" />
<line x1="92.92" y1="332.72" x2="92.92" y2="342.98" stroke="#9d9d9d" stroke-width="0.95" />
<line x1="95.34" y1="330.55" x2="95.34" y2="341.84" stroke="#9d9d9d" stroke-width="0.95" />
<line x1="97.76" y1="328.42" x2="97.76" y2="340.72" stroke="#9d9d9d" stroke-width="0.95" />
<line x1="100.18" y1="326.45" x2="100.18" y2="339.65" stroke="#9d9d9d" stroke-width="0.95" />
<line x1="102.60" y1="325.12" x2="102.60" y2="338.46" stroke="#9d9d9d" stroke-width="0.95" />
<line x1="105.02" y1="323.93" x2="105.02" y2="337.39" stroke="#9d9d9d" stroke-width="0.95" />
<line x1="107.44" y1="323.19" x2="107.44" y2="336.78" stroke="#9d9d9d" stroke-width="0.95" />
<line x1="109.86" y1="322.51" x2="109.86" y2="336.22" stroke="#9d9d9d" stroke-width="0.95" />
<line x1="112.28" y1="321.94" x2="112.28" y2="335.78" stroke="#9d9d9d" stroke-width="0.95" />
<line x1="114.70" y1="321.37" x2="114.70" y2="335.33" stroke="#9d9d9d" stroke-width="0.95" />
<line x1="117.12" y1="320.79" x2="117.12" y2="334.88" stroke="#9d9d9d" stroke-width="0.95" />
<line x1="119.54" y1="320.23" x2="119.54" y2="334.45" stroke="#9d9d9d" stroke-width="0.95" />
<line x1="121.96" y1="319.72" x2="121.96" y2="334.06" stroke="#9d9d9d" stroke-width="0.95" />
<line x1="124.38" y1="319.14" x2="124.38" y2="333.61" stroke="#9d9d9d" stroke-width="0.95" />
<line x1="126.80" y1="318.46" x2="126.80" y2="333.05" stroke="#9d9d9d" stroke-width="0.95" />
<line x1="129.22" y1="317.76" x2="129.22" y2="332.48" stroke="#9d9d9d" stroke-width="0.95" />
<line x1="131.64" y1="317.05" x2="131.64" y2="331.89" stroke="#9d9d9d" stroke-width="0.95" />
<line x1="134.06" y1="316.30" x2="134.06" y2="331.27" stroke="#9d9d9d" stroke-width="0.95" />
<line x1="136.48" y1="315.51" x2="136.48" y2="330.60" stroke="#9d9d9d" stroke-width="0.95" />
<line x1="138.90" y1="314.72" x2="138.90" y2="329.94" stroke="#9d9d9d" stroke-width="0.95" />
<line x1="141.32" y1="314.06" x2="141.32" y2="329.41" stroke="#9d9d9d" stroke-width="0.95" />
<line x1="143.74" y1="313.51" x2="143.74" y2="328.99" stroke="#9d9d9d" stroke-width="0.95" />
<line x1="146.16" y1="312.97" x2="146.16" y2="328.57" stroke="#9d9d9d" stroke-width="0.95" />
<line x1="148.58" y1="312.42" x2="148.58" y2="328.15" stroke="#9d9d9d" stroke-width="0.95" />
<line x1="151.00" y1="311.87" x2="151.00" y2="327.73" stroke="#9d9d9d" stroke-width="0.95" />
<line x1="153.42" y1="311.33" x2="153.42" y2="327.30" stroke="#9d9d9d" stroke-width="0.95" />
<line x1="155.84" y1="310.78" x2="155.84" y2="326.88" stroke="#9d9d9d" stroke-width="0.95" />
<line x1="158.26" y1="310.22" x2="158.26" y2="326.45" stroke="#9d9d9d" stroke-width="0.95" />
<line x1="160.68" y1="309.64" x2="160.68" y2="325.99" stroke="#9d9d9d" stroke-width="0.95" />
<line x1="163.10" y1="309.06" x2="163.10" y2="325.54" stroke="#9d9d9d" stroke-width="0.95" />
<line x1="46.0" y1="389.1" x2="164.3" y2="389.3" stroke="#555" stroke-width="1.3" />
<line x1="47.00" y1="388.0" x2="47.00" y2="390.4" stroke="#666" stroke-width="0.9" />
<line x1="49.42" y1="388.0" x2="49.42" y2="390.4" stroke="#666" stroke-width="0.9" />
<line x1="51.84" y1="388.0" x2="51.84" y2="390.4" stroke="#666" stroke-width="0.9" />
<line x1="54.26" y1="388.0" x2="54.26" y2="390.4" stroke="#666" stroke-width="0.9" />
<line x1="56.68" y1="388.0" x2="56.68" y2="390.4" stroke="#666" stroke-width="0.9" />
<line x1="59.10" y1="388.0" x2="59.10" y2="390.4" stroke="#666" stroke-width="0.9" />
<line x1="61.52" y1="388.0" x2="61.52" y2="390.4" stroke="#666" stroke-width="0.9" />
<line x1="63.94" y1="388.0" x2="63.94" y2="390.4" stroke="#666" stroke-width="0.9" />
<line x1="66.36" y1="388.0" x2="66.36" y2="390.4" stroke="#666" stroke-width="0.9" />
<line x1="68.78" y1="388.0" x2="68.78" y2="390.4" stroke="#666" stroke-width="0.9" />
<line x1="71.20" y1="388.0" x2="71.20" y2="390.4" stroke="#666" stroke-width="0.9" />
<line x1="73.62" y1="388.0" x2="73.62" y2="390.4" stroke="#666" stroke-width="0.9" />
<line x1="76.04" y1="388.0" x2="76.04" y2="390.4" stroke="#666" stroke-width="0.9" />
<line x1="78.46" y1="388.0" x2="78.46" y2="390.4" stroke="#666" stroke-width="0.9" />
<line x1="80.88" y1="388.0" x2="80.88" y2="390.4" stroke="#666" stroke-width="0.9" />
<line x1="83.30" y1="388.0" x2="83.30" y2="390.4" stroke="#666" stroke-width="0.9" />
<line x1="85.72" y1="388.0" x2="85.72" y2="390.4" stroke="#666" stroke-width="0.9" />
<line x1="88.14" y1="388.0" x2="88.14" y2="390.4" stroke="#666" stroke-width="0.9" />
<line x1="90.56" y1="388.0" x2="90.56" y2="390.4" stroke="#666" stroke-width="0.9" />
<line x1="92.98" y1="388.0" x2="92.98" y2="390.4" stroke="#666" stroke-width="0.9" />
<line x1="95.40" y1="388.0" x2="95.40" y2="390.4" stroke="#666" stroke-width="0.9" />
<line x1="97.82" y1="388.0" x2="97.82" y2="390.4" stroke="#666" stroke-width="0.9" />
<line x1="100.24" y1="388.0" x2="100.24" y2="390.4" stroke="#666" stroke-width="0.9" />
<line x1="102.66" y1="388.0" x2="102.66" y2="390.4" stroke="#666" stroke-width="0.9" />
<line x1="105.08" y1="388.0" x2="105.08" y2="390.4" stroke="#666" stroke-width="0.9" />
<line x1="107.50" y1="388.0" x2="107.50" y2="390.4" stroke="#666" stroke-width="0.9" />
<line x1="109.92" y1="388.0" x2="109.92" y2="390.4" stroke="#666" stroke-width="0.9" />
<line x1="112.34" y1="388.0" x2="112.34" y2="390.4" stroke="#666" stroke-width="0.9" />
<line x1="114.76" y1="388.0" x2="114.76" y2="390.4" stroke="#666" stroke-width="0.9" />
<line x1="117.18" y1="388.0" x2="117.18" y2="390.4" stroke="#666" stroke-width="0.9" />
<line x1="119.60" y1="388.0" x2="119.60" y2="390.4" stroke="#666" stroke-width="0.9" />
<line x1="122.02" y1="388.0" x2="122.02" y2="390.4" stroke="#666" stroke-width="0.9" />
<line x1="124.44" y1="388.0" x2="124.44" y2="390.4" stroke="#666" stroke-width="0.9" />
<line x1="126.86" y1="388.0" x2="126.86" y2="390.4" stroke="#666" stroke-width="0.9" />
<line x1="129.28" y1="388.0" x2="129.28" y2="390.4" stroke="#666" stroke-width="0.9" />
<line x1="131.70" y1="388.0" x2="131.70" y2="390.4" stroke="#666" stroke-width="0.9" />
<line x1="134.12" y1="388.0" x2="134.12" y2="390.4" stroke="#666" stroke-width="0.9" />
<line x1="136.54" y1="388.0" x2="136.54" y2="390.4" stroke="#666" stroke-width="0.9" />
<line x1="138.96" y1="388.0" x2="138.96" y2="390.4" stroke="#666" stroke-width="0.9" />
<line x1="141.38" y1="388.0" x2="141.38" y2="390.4" stroke="#666" stroke-width="0.9" />
<line x1="143.80" y1="388.0" x2="143.80" y2="390.4" stroke="#666" stroke-width="0.9" />
<line x1="146.22" y1="388.0" x2="146.22" y2="390.4" stroke="#666" stroke-width="0.9" />
<line x1="148.64" y1="388.0" x2="148.64" y2="390.4" stroke="#666" stroke-width="0.9" />
<line x1="151.06" y1="388.0" x2="151.06" y2="390.4" stroke="#666" stroke-width="0.9" />
<line x1="153.48" y1="388.0" x2="153.48" y2="390.4" stroke="#666" stroke-width="0.9" />
<line x1="155.90" y1="388.0" x2="155.90" y2="390.4" stroke="#666" stroke-width="0.9" />
<line x1="158.32" y1="388.0" x2="158.32" y2="390.4" stroke="#666" stroke-width="0.9" />
<line x1="160.74" y1="388.0" x2="160.74" y2="390.4" stroke="#666" stroke-width="0.9" />
<line x1="163.16" y1="388.0" x2="163.16" y2="390.4" stroke="#666" stroke-width="0.9" />
<path d="M46.20,385.30 C46.63,385.67 47.70,387.48 48.80,387.50 C49.90,387.52 51.40,386.27 52.80,385.40 C54.20,384.53 55.73,383.48 57.20,382.30 C58.67,381.12 60.13,379.77 61.60,378.30 C63.07,376.83 64.70,375.02 66.00,373.50 C67.30,371.98 68.30,370.65 69.40,369.20 C70.50,367.75 71.25,366.92 72.60,364.80 C73.95,362.68 75.90,359.07 77.50,356.50 C79.10,353.93 80.62,351.57 82.20,349.40 C83.78,347.23 85.25,345.40 87.00,343.50 C88.75,341.60 91.12,339.35 92.70,338.00 C94.28,336.65 95.33,336.18 96.50,335.40 C97.67,334.62 98.37,334.07 99.70,333.30 C101.03,332.53 102.92,331.43 104.50,330.80 C106.08,330.17 107.62,329.88 109.20,329.50 C110.78,329.12 112.42,328.83 114.00,328.50 C115.58,328.17 117.12,327.82 118.70,327.50 C120.28,327.18 121.92,326.95 123.50,326.60 C125.08,326.25 126.62,325.82 128.20,325.40 C129.78,324.98 131.03,324.67 133.00,324.10 C134.97,323.53 137.17,322.68 140.00,322.00 C142.83,321.32 147.17,320.57 150.00,320.00 C152.83,319.43 154.58,319.10 157.00,318.60 C159.42,318.10 163.25,317.27 164.50,317.00" fill="none" stroke="#111" stroke-width="2.4" stroke-linecap="round"/>
<line x1="69.6" y1="310.4" x2="69.6" y2="396.4" stroke="#d0202f" stroke-width="2.0" stroke-dasharray="6.6,6.25"/>
<line x1="89.0" y1="310.4" x2="89.0" y2="396.4" stroke="#d0202f" stroke-width="2.0" stroke-dasharray="6.6,6.25"/>
<line x1="93.4" y1="317.5" x2="119.5" y2="317.5" stroke="#d0202f" stroke-width="2.0" stroke-dasharray="7,3.2"/>
<path d="M115.8,313.6 L121.4,317.5 L115.8,321.4" fill="none" stroke="#d0202f" stroke-width="2.4"/>
<text x="43.3" y="351.6" font-size="8.2" font-weight="bold" text-anchor="start" fill="#d0202f"  stroke="#d0202f" stroke-width="0.22" textLength="22.5" lengthAdjust="spacingAndGlyphs">2.32 h</text>
<text x="100.2" y="351.3" font-size="8.2" font-weight="bold" text-anchor="start" fill="#d0202f"  stroke="#d0202f" stroke-width="0.22" textLength="22" lengthAdjust="spacingAndGlyphs">4.07 h</text>
<text x="88.6" y="295.3" font-size="9.9" font-weight="normal" text-anchor="start" fill="#222"  stroke="#222" stroke-width="0.22" textLength="38.4" lengthAdjust="spacingAndGlyphs">Migration</text>
<text x="31.5" y="292.7" font-size="8.4" fill="#222" stroke="#222" stroke-width="0.22" textLength="37.6" lengthAdjust="spacingAndGlyphs"><tspan font-style="italic">P</tspan> = 0.0015</text>
<text x="30.8" y="303.4" font-size="8.4" font-weight="normal" text-anchor="start" fill="#222"  stroke="#222" stroke-width="0.22" textLength="43.6" lengthAdjust="spacingAndGlyphs">(Δt = 1.75 h)</text>
<line x1="193.8" y1="316.2" x2="203.4" y2="316.2" stroke="#111" stroke-width="2.0" />
<text x="208.7" y="319.8" font-size="9.5" font-weight="normal" text-anchor="start" fill="#222"  stroke="#222" stroke-width="0.22" textLength="49.8" lengthAdjust="spacingAndGlyphs">C2-TRAMP</text>
<line x1="193.8" y1="326.6" x2="203.4" y2="326.6" stroke="#8a8a8a" stroke-width="2.0" />
<text x="208.7" y="330.1" font-size="9.5" font-weight="normal" text-anchor="start" fill="#222"  stroke="#222" stroke-width="0.22" textLength="49.8" lengthAdjust="spacingAndGlyphs">C3-TRAMP</text>
<text x="259.6" y="293.6" font-size="12.9" font-weight="bold" text-anchor="start" fill="#111"  stroke="#111" stroke-width="0.22">D</text>
<line x1="303.0" y1="305.0" x2="303.0" y2="393.3" stroke="#222" stroke-width="1.2" />
<line x1="302.4" y1="392.8" x2="434.6" y2="392.8" stroke="#222" stroke-width="1.2" />
<line x1="299.6" y1="305.75" x2="303.0" y2="305.75" stroke="#222" stroke-width="1.1" />
<text x="299.6" y="309.25" font-size="9.8" font-weight="normal" text-anchor="end" fill="#222"  stroke="#222" stroke-width="0.22">1.5</text>
<line x1="299.6" y1="327.5" x2="303.0" y2="327.5" stroke="#222" stroke-width="1.1" />
<text x="299.6" y="331.0" font-size="9.8" font-weight="normal" text-anchor="end" fill="#222"  stroke="#222" stroke-width="0.22">1.0</text>
<line x1="299.6" y1="349.25" x2="303.0" y2="349.25" stroke="#222" stroke-width="1.1" />
<text x="299.6" y="352.75" font-size="9.8" font-weight="normal" text-anchor="end" fill="#222"  stroke="#222" stroke-width="0.22">0.5</text>
<line x1="299.6" y1="371.0" x2="303.0" y2="371.0" stroke="#222" stroke-width="1.1" />
<text x="299.6" y="374.5" font-size="9.8" font-weight="normal" text-anchor="end" fill="#222"  stroke="#222" stroke-width="0.22">0.0</text>
<line x1="299.6" y1="392.75" x2="303.0" y2="392.75" stroke="#222" stroke-width="1.1" />
<text x="299.6" y="396.25" font-size="9.8" font-weight="normal" text-anchor="end" fill="#222"  stroke="#222" stroke-width="0.22">−0.5</text>
<line x1="301.6" y1="392.75" x2="303.0" y2="392.75" stroke="#444" stroke-width="0.9" />
<line x1="301.6" y1="388.4" x2="303.0" y2="388.4" stroke="#444" stroke-width="0.9" />
<line x1="301.6" y1="384.05" x2="303.0" y2="384.05" stroke="#444" stroke-width="0.9" />
<line x1="301.6" y1="379.7" x2="303.0" y2="379.7" stroke="#444" stroke-width="0.9" />
<line x1="301.6" y1="375.35" x2="303.0" y2="375.35" stroke="#444" stroke-width="0.9" />
<line x1="301.6" y1="371.0" x2="303.0" y2="371.0" stroke="#444" stroke-width="0.9" />
<line x1="301.6" y1="366.65" x2="303.0" y2="366.65" stroke="#444" stroke-width="0.9" />
<line x1="301.6" y1="362.3" x2="303.0" y2="362.3" stroke="#444" stroke-width="0.9" />
<line x1="301.6" y1="357.95" x2="303.0" y2="357.95" stroke="#444" stroke-width="0.9" />
<line x1="301.6" y1="353.6" x2="303.0" y2="353.6" stroke="#444" stroke-width="0.9" />
<line x1="301.6" y1="349.25" x2="303.0" y2="349.25" stroke="#444" stroke-width="0.9" />
<line x1="301.6" y1="344.9" x2="303.0" y2="344.9" stroke="#444" stroke-width="0.9" />
<line x1="301.6" y1="340.55" x2="303.0" y2="340.55" stroke="#444" stroke-width="0.9" />
<line x1="301.6" y1="336.2" x2="303.0" y2="336.2" stroke="#444" stroke-width="0.9" />
<line x1="301.6" y1="331.85" x2="303.0" y2="331.85" stroke="#444" stroke-width="0.9" />
<line x1="301.6" y1="327.5" x2="303.0" y2="327.5" stroke="#444" stroke-width="0.9" />
<line x1="301.6" y1="323.15" x2="303.0" y2="323.15" stroke="#444" stroke-width="0.9" />
<line x1="301.6" y1="318.8" x2="303.0" y2="318.8" stroke="#444" stroke-width="0.9" />
<line x1="301.6" y1="314.45" x2="303.0" y2="314.45" stroke="#444" stroke-width="0.9" />
<line x1="301.6" y1="310.1" x2="303.0" y2="310.1" stroke="#444" stroke-width="0.9" />
<line x1="301.6" y1="305.75" x2="303.0" y2="305.75" stroke="#444" stroke-width="0.9" />
<line x1="303.0" y1="392.8" x2="303.0" y2="395.8" stroke="#222" stroke-width="1.1" />
<text x="303.0" y="405.6" font-size="9.8" font-weight="normal" text-anchor="middle" fill="#222"  stroke="#222" stroke-width="0.22">0</text>
<line x1="357.8" y1="392.8" x2="357.8" y2="395.8" stroke="#222" stroke-width="1.1" />
<text x="357.8" y="405.6" font-size="9.8" font-weight="normal" text-anchor="middle" fill="#222"  stroke="#222" stroke-width="0.22">20</text>
<line x1="412.6" y1="392.8" x2="412.6" y2="395.8" stroke="#222" stroke-width="1.1" />
<text x="412.6" y="405.6" font-size="9.8" font-weight="normal" text-anchor="middle" fill="#222"  stroke="#222" stroke-width="0.22">40</text>
<line x1="313.96" y1="392.8" x2="313.96" y2="394.6" stroke="#444" stroke-width="0.9" />
<line x1="324.92" y1="392.8" x2="324.92" y2="394.6" stroke="#444" stroke-width="0.9" />
<line x1="335.88" y1="392.8" x2="335.88" y2="394.6" stroke="#444" stroke-width="0.9" />
<line x1="346.84000000000003" y1="392.8" x2="346.84000000000003" y2="394.6" stroke="#444" stroke-width="0.9" />
<line x1="368.76" y1="392.8" x2="368.76" y2="394.6" stroke="#444" stroke-width="0.9" />
<line x1="379.72" y1="392.8" x2="379.72" y2="394.6" stroke="#444" stroke-width="0.9" />
<line x1="390.68" y1="392.8" x2="390.68" y2="394.6" stroke="#444" stroke-width="0.9" />
<line x1="401.64" y1="392.8" x2="401.64" y2="394.6" stroke="#444" stroke-width="0.9" />
<line x1="423.56" y1="392.8" x2="423.56" y2="394.6" stroke="#444" stroke-width="0.9" />
<text x="370.3" y="416.4" font-size="9.2" font-weight="normal" text-anchor="middle" fill="#222"  stroke="#222" stroke-width="0.22" textLength="33.5" lengthAdjust="spacingAndGlyphs">Time (h)</text>
<text transform="translate(281.9,349.0) rotate(-90)" x="0" y="0" font-size="10.2" font-weight="normal" text-anchor="middle" fill="#222" textLength="41" lengthAdjust="spacingAndGlyphs" stroke="#222" stroke-width="0.22">Cell index</text>
<polygon points="316,370.4 330,365.6 350,359.6 363.7,355.0 373.8,351.0 385.6,346.5 397.5,341.2 405.3,338.4 405.6,334.8 411.9,331.8 423.8,324.2 434.2,316.8 434.2,334.4 423.8,340.0 411.9,344.8 405.3,348.0 397.5,351.0 385.6,355.6 373.8,359.6 363.7,362.8 350,366.4 330,370.4 316,372.6" fill="#a6a6a6"/>
<line x1="317.00" y1="370.06" x2="317.00" y2="372.44" stroke="#777" stroke-width="0.6" />
<line x1="318.60" y1="369.51" x2="318.60" y2="372.19" stroke="#777" stroke-width="0.6" />
<line x1="320.20" y1="368.96" x2="320.20" y2="371.94" stroke="#777" stroke-width="0.6" />
<line x1="321.80" y1="368.41" x2="321.80" y2="371.69" stroke="#777" stroke-width="0.6" />
<line x1="323.40" y1="367.86" x2="323.40" y2="371.44" stroke="#777" stroke-width="0.6" />
<line x1="325.00" y1="367.31" x2="325.00" y2="371.19" stroke="#777" stroke-width="0.6" />
<line x1="326.60" y1="366.77" x2="326.60" y2="370.93" stroke="#777" stroke-width="0.6" />
<line x1="328.20" y1="366.22" x2="328.20" y2="370.68" stroke="#777" stroke-width="0.6" />
<line x1="329.80" y1="365.67" x2="329.80" y2="370.43" stroke="#777" stroke-width="0.6" />
<line x1="331.40" y1="365.18" x2="331.40" y2="370.12" stroke="#777" stroke-width="0.6" />
<line x1="333.00" y1="364.70" x2="333.00" y2="369.80" stroke="#777" stroke-width="0.6" />
<line x1="334.60" y1="364.22" x2="334.60" y2="369.48" stroke="#777" stroke-width="0.6" />
<line x1="336.20" y1="363.74" x2="336.20" y2="369.16" stroke="#777" stroke-width="0.6" />
<line x1="337.80" y1="363.26" x2="337.80" y2="368.84" stroke="#777" stroke-width="0.6" />
<line x1="339.40" y1="362.78" x2="339.40" y2="368.52" stroke="#777" stroke-width="0.6" />
<line x1="341.00" y1="362.30" x2="341.00" y2="368.20" stroke="#777" stroke-width="0.6" />
<line x1="342.60" y1="361.82" x2="342.60" y2="367.88" stroke="#777" stroke-width="0.6" />
<line x1="344.20" y1="361.34" x2="344.20" y2="367.56" stroke="#777" stroke-width="0.6" />
<line x1="345.80" y1="360.86" x2="345.80" y2="367.24" stroke="#777" stroke-width="0.6" />
<line x1="347.40" y1="360.38" x2="347.40" y2="366.92" stroke="#777" stroke-width="0.6" />
<line x1="349.00" y1="359.90" x2="349.00" y2="366.60" stroke="#777" stroke-width="0.6" />
<line x1="350.60" y1="359.40" x2="350.60" y2="366.24" stroke="#777" stroke-width="0.6" />
<line x1="352.20" y1="358.86" x2="352.20" y2="365.82" stroke="#777" stroke-width="0.6" />
<line x1="353.80" y1="358.32" x2="353.80" y2="365.40" stroke="#777" stroke-width="0.6" />
<line x1="355.40" y1="357.79" x2="355.40" y2="364.98" stroke="#777" stroke-width="0.6" />
<line x1="357.00" y1="357.25" x2="357.00" y2="364.56" stroke="#777" stroke-width="0.6" />
<line x1="358.60" y1="356.71" x2="358.60" y2="364.14" stroke="#777" stroke-width="0.6" />
<line x1="360.20" y1="356.18" x2="360.20" y2="363.72" stroke="#777" stroke-width="0.6" />
<line x1="361.80" y1="355.64" x2="361.80" y2="363.30" stroke="#777" stroke-width="0.6" />
<line x1="363.40" y1="355.10" x2="363.40" y2="362.88" stroke="#777" stroke-width="0.6" />
<line x1="365.00" y1="354.49" x2="365.00" y2="362.39" stroke="#777" stroke-width="0.6" />
<line x1="366.60" y1="353.85" x2="366.60" y2="361.88" stroke="#777" stroke-width="0.6" />
<line x1="368.20" y1="353.22" x2="368.20" y2="361.37" stroke="#777" stroke-width="0.6" />
<line x1="369.80" y1="352.58" x2="369.80" y2="360.87" stroke="#777" stroke-width="0.6" />
<line x1="371.40" y1="351.95" x2="371.40" y2="360.36" stroke="#777" stroke-width="0.6" />
<line x1="373.00" y1="351.32" x2="373.00" y2="359.85" stroke="#777" stroke-width="0.6" />
<line x1="374.60" y1="350.69" x2="374.60" y2="359.33" stroke="#777" stroke-width="0.6" />
<line x1="376.20" y1="350.08" x2="376.20" y2="358.79" stroke="#777" stroke-width="0.6" />
<line x1="377.80" y1="349.47" x2="377.80" y2="358.24" stroke="#777" stroke-width="0.6" />
<line x1="379.40" y1="348.86" x2="379.40" y2="357.70" stroke="#777" stroke-width="0.6" />
<line x1="381.00" y1="348.25" x2="381.00" y2="357.16" stroke="#777" stroke-width="0.6" />
<line x1="382.60" y1="347.64" x2="382.60" y2="356.62" stroke="#777" stroke-width="0.6" />
<line x1="384.20" y1="347.03" x2="384.20" y2="356.07" stroke="#777" stroke-width="0.6" />
<line x1="385.80" y1="346.41" x2="385.80" y2="355.52" stroke="#777" stroke-width="0.6" />
<line x1="387.40" y1="345.70" x2="387.40" y2="354.90" stroke="#777" stroke-width="0.6" />
<line x1="389.00" y1="344.99" x2="389.00" y2="354.29" stroke="#777" stroke-width="0.6" />
<line x1="390.60" y1="344.27" x2="390.60" y2="353.67" stroke="#777" stroke-width="0.6" />
<line x1="392.20" y1="343.56" x2="392.20" y2="353.05" stroke="#777" stroke-width="0.6" />
<line x1="393.80" y1="342.85" x2="393.80" y2="352.43" stroke="#777" stroke-width="0.6" />
<line x1="395.40" y1="342.14" x2="395.40" y2="351.81" stroke="#777" stroke-width="0.6" />
<line x1="397.00" y1="341.42" x2="397.00" y2="351.19" stroke="#777" stroke-width="0.6" />
<line x1="398.60" y1="340.81" x2="398.60" y2="350.58" stroke="#777" stroke-width="0.6" />
<line x1="400.20" y1="340.23" x2="400.20" y2="349.96" stroke="#777" stroke-width="0.6" />
<line x1="401.80" y1="339.66" x2="401.80" y2="349.35" stroke="#777" stroke-width="0.6" />
<line x1="403.40" y1="339.08" x2="403.40" y2="348.73" stroke="#777" stroke-width="0.6" />
<line x1="405.00" y1="338.51" x2="405.00" y2="348.12" stroke="#777" stroke-width="0.6" />
<line x1="406.60" y1="334.32" x2="406.60" y2="347.37" stroke="#777" stroke-width="0.6" />
<line x1="408.20" y1="333.56" x2="408.20" y2="346.59" stroke="#777" stroke-width="0.6" />
<line x1="409.80" y1="332.80" x2="409.80" y2="345.82" stroke="#777" stroke-width="0.6" />
<line x1="411.40" y1="332.04" x2="411.40" y2="345.04" stroke="#777" stroke-width="0.6" />
<line x1="413.00" y1="331.10" x2="413.00" y2="344.36" stroke="#777" stroke-width="0.6" />
<line x1="414.60" y1="330.08" x2="414.60" y2="343.71" stroke="#777" stroke-width="0.6" />
<line x1="416.20" y1="329.05" x2="416.20" y2="343.07" stroke="#777" stroke-width="0.6" />
<line x1="417.80" y1="328.03" x2="417.80" y2="342.42" stroke="#777" stroke-width="0.6" />
<line x1="419.40" y1="327.01" x2="419.40" y2="341.77" stroke="#777" stroke-width="0.6" />
<line x1="421.00" y1="325.99" x2="421.00" y2="341.13" stroke="#777" stroke-width="0.6" />
<line x1="422.60" y1="324.97" x2="422.60" y2="340.48" stroke="#777" stroke-width="0.6" />
<line x1="424.20" y1="323.92" x2="424.20" y2="339.78" stroke="#777" stroke-width="0.6" />
<line x1="425.80" y1="322.78" x2="425.80" y2="338.92" stroke="#777" stroke-width="0.6" />
<line x1="427.40" y1="321.64" x2="427.40" y2="338.06" stroke="#777" stroke-width="0.6" />
<line x1="429.00" y1="320.50" x2="429.00" y2="337.20" stroke="#777" stroke-width="0.6" />
<line x1="430.60" y1="319.36" x2="430.60" y2="336.34" stroke="#777" stroke-width="0.6" />
<line x1="432.20" y1="318.22" x2="432.20" y2="335.48" stroke="#777" stroke-width="0.6" />
<line x1="433.80" y1="317.08" x2="433.80" y2="334.62" stroke="#777" stroke-width="0.6" />
<path d="M303.4,366.5 L304.6,369.4 L308,370.6 L316.4,371.3 L434.6,374.7" fill="none" stroke="#2a2a2a" stroke-width="1.2"/>
<path d="M303.40,365.80 C303.53,366.20 303.85,367.57 304.20,368.20 C304.55,368.83 304.87,369.22 305.50,369.60 C306.13,369.98 306.92,370.25 308.00,370.50 C309.08,370.75 310.60,370.95 312.00,371.10 C313.40,371.25 314.73,371.43 316.40,371.40 C318.07,371.37 319.73,371.37 322.00,370.90 C324.27,370.43 327.00,369.60 330.00,368.60 C333.00,367.60 336.67,366.00 340.00,364.90 C343.33,363.80 347.63,362.65 350.00,362.00 C352.37,361.35 351.92,361.63 354.20,361.00 C356.48,360.37 360.43,359.23 363.70,358.20 C366.97,357.17 370.15,356.03 373.80,354.80 C377.45,353.57 381.65,352.17 385.60,350.80 C389.55,349.43 394.35,347.82 397.50,346.60 C400.65,345.38 402.10,344.80 404.50,343.50 C406.90,342.20 408.68,340.77 411.90,338.80 C415.12,336.83 420.15,333.87 423.80,331.70 C427.45,329.53 432.13,326.78 433.80,325.80" fill="none" stroke="#111" stroke-width="2.2" stroke-linecap="round"/>
<line x1="354.2" y1="305.0" x2="354.2" y2="392.8" stroke="#d0202f" stroke-width="2.0" stroke-dasharray="7.0,6.37"/>
<line x1="363.9" y1="305.0" x2="363.9" y2="392.8" stroke="#d0202f" stroke-width="2.0" stroke-dasharray="7.0,6.37"/>
<line x1="370.3" y1="314.8" x2="397.0" y2="314.8" stroke="#d0202f" stroke-width="2.0" stroke-dasharray="6.4,3.6"/>
<path d="M393.4,311.0 L399.0,314.8 L393.4,318.6" fill="none" stroke="#d0202f" stroke-width="2.4"/>
<text x="324.5" y="330.8" font-size="8.4" font-weight="normal" text-anchor="start" fill="#222"  stroke="#222" stroke-width="0.22" textLength="21.2" lengthAdjust="spacingAndGlyphs">3.82 h</text>
<text x="370.1" y="330.8" font-size="8.4" font-weight="normal" text-anchor="start" fill="#222"  stroke="#222" stroke-width="0.22" textLength="21.4" lengthAdjust="spacingAndGlyphs">5.57 h</text>
<text x="351.7" y="291.3" font-size="9.9" font-weight="normal" text-anchor="start" fill="#222"  stroke="#222" stroke-width="0.22" textLength="34.3" lengthAdjust="spacingAndGlyphs">Invasion</text>
<text x="292.0" y="285.8" font-size="8.4" fill="#222" stroke="#222" stroke-width="0.22" textLength="38" lengthAdjust="spacingAndGlyphs"><tspan font-style="italic">P</tspan> = 0.0007</text>
<text x="291.4" y="296.5" font-size="8.4" font-weight="normal" text-anchor="start" fill="#222"  stroke="#222" stroke-width="0.22" textLength="43.8" lengthAdjust="spacingAndGlyphs">(Δt = 1.75 h)</text>
<line x1="454.6" y1="312.3" x2="463.8" y2="312.3" stroke="#111" stroke-width="2.0" />
<text x="469.2" y="316.2" font-size="9.5" font-weight="normal" text-anchor="start" fill="#222"  stroke="#222" stroke-width="0.22" textLength="49.6" lengthAdjust="spacingAndGlyphs">C2-TRAMP</text>
<line x1="454.6" y1="322.8" x2="463.8" y2="322.8" stroke="#8a8a8a" stroke-width="2.0" />
<text x="469.2" y="326.2" font-size="9.5" font-weight="normal" text-anchor="start" fill="#222"  stroke="#222" stroke-width="0.22" textLength="49.6" lengthAdjust="spacingAndGlyphs">C3-TRAMP</text>
</svg>
</body></html>
